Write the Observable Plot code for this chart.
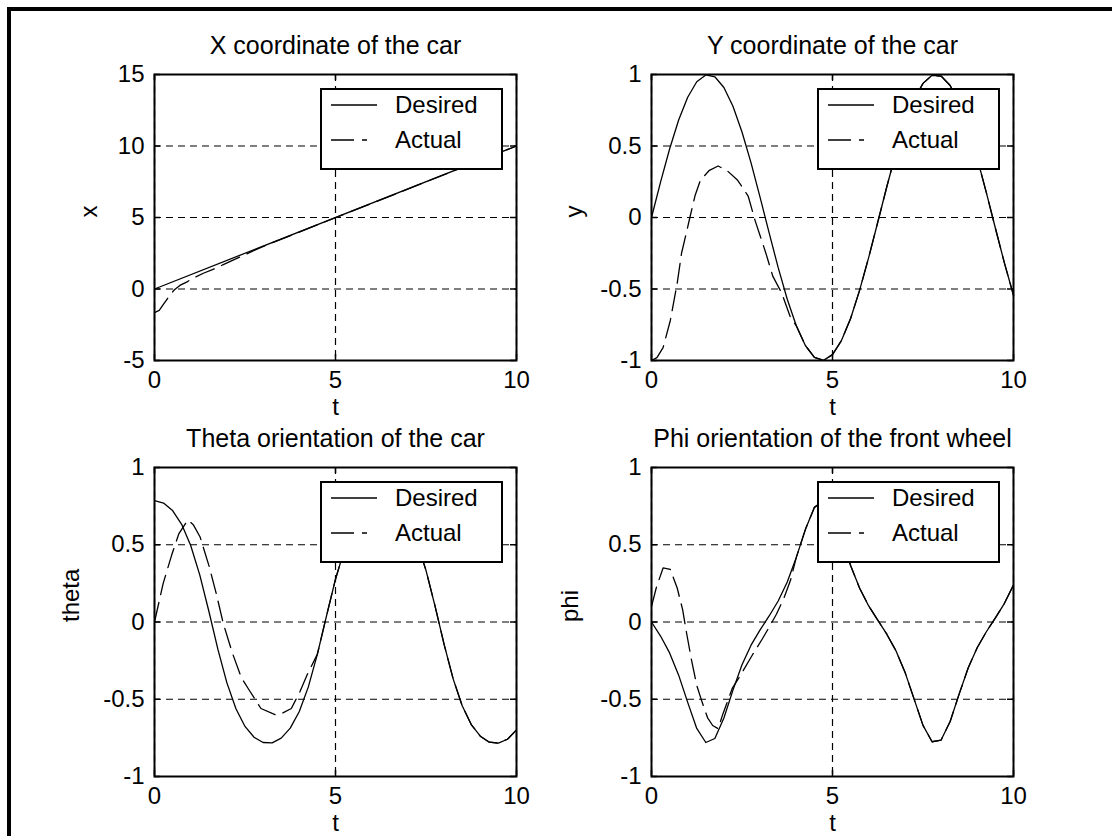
<!DOCTYPE html>
<html>
<head>
<meta charset="utf-8">
<script src="https://cdn.jsdelivr.net/npm/d3@7"></script>
<script src="https://cdn.jsdelivr.net/npm/@observablehq/plot@0.6"></script>
<style>
  html, body { margin: 0; padding: 0; background: #fff; }
  #fig { position: relative; width: 1112px; height: 836px; overflow: hidden; background: #fff;
         font-family: 'Liberation Sans', Arial, Helvetica, sans-serif; color: #000; }
  #border { position: absolute; left: 7px; top: 7px; width: 1300px; height: 1000px;
            border-left: 4px solid #000; border-top: 4px solid #000; z-index: 10; }
  .panel { position: absolute; }
  .legend { position: absolute; background: #fff; border: 2px solid #000; box-sizing: border-box; z-index: 5; }
  .legend svg { position: absolute; left: 0; top: 0; overflow: visible; }
</style>
</head>
<body>
<div id="fig"><div id="border"></div></div>
<script>
// ---------------- data ----------------
const titles = ["X coordinate of the car", "Y coordinate of the car",
                "Theta orientation of the car", "Phi orientation of the front wheel"];
const yLabels = ["x", "y", "theta", "phi"];
const xLabel = "t";
const legendLabels = ["Desired", "Actual"];

const xTicks = [0, 5, 10];
const yTicksX = [-5, 0, 5, 10, 15];
const yTicksUnit = [-1, -0.5, 0, 0.5, 1];

const tGrid = [0,0.25,0.5,0.75,1,1.25,1.5,1.75,2,2.25,2.5,2.75,3,3.25,3.5,3.75,4,4.25,4.5,4.75,
               5,5.25,5.5,5.75,6,6.25,6.5,6.75,7,7.25,7.5,7.75,8,8.25,8.5,8.75,9,9.25,9.5,9.75,10];

// X coordinate
const tXDesired = [0, 10];
const xDesired  = [0, 10];
const tXActual = [0,0.13,0.28,0.42,0.55,0.7,0.9,1.1,1.35,1.6,1.9,2.2,2.5,2.8,3.1,10];
const xActual  = [-1.65,-1.5,-0.95,-0.45,-0.05,0.25,0.5,0.8,1.1,1.35,1.7,2.05,2.4,2.75,3.08,10];

// Y coordinate (desired on tGrid)
const yDesired = [0,0.247,0.479,0.682,0.841,0.949,0.997,0.984,0.909,0.778,0.598,0.382,0.141,-0.108,
  -0.351,-0.572,-0.757,-0.895,-0.978,-0.999,-0.959,-0.859,-0.706,-0.508,-0.279,-0.033,0.215,0.450,
  0.657,0.823,0.938,0.994,0.989,0.923,0.798,0.624,0.412,0.174,-0.075,-0.319,-0.544];
const tYActualStart = [0,0.15,0.32,0.52,0.71,0.83,0.96,1.06,1.2,1.35,1.6,1.84,2.08,2.38,2.67,2.86,3.16,3.35,3.6,3.84];
const yActualStart  = [-1,-0.98,-0.91,-0.72,-0.46,-0.25,-0.11,0,0.15,0.26,0.33,0.36,0.33,0.26,0.15,-0.02,-0.25,-0.41,-0.53,-0.7];
const yJoinIndex = 16;   // actual follows desired from t = 4

// Theta (desired on tGrid)
const thetaDesired = [0.785,0.770,0.721,0.632,0.495,0.305,0.071,-0.176,-0.394,-0.561,-0.676,-0.746,
  -0.780,-0.782,-0.752,-0.687,-0.579,-0.420,-0.208,0.038,0.277,0.473,0.617,0.711,0.765,0.785,0.774,
  0.729,0.646,0.517,0.334,0.103,-0.145,-0.368,-0.542,-0.664,-0.739,-0.778,-0.784,-0.759,-0.698];
const tThetaActualStart = [0,0.24,0.47,0.67,0.92,1.07,1.26,1.51,1.71,1.9,2.15,2.4,2.64,2.94,3.33,3.53,3.78,4.02,4.22];
const thetaActualStart  = [0,0.25,0.43,0.57,0.66,0.63,0.55,0.36,0.18,-0.01,-0.2,-0.36,-0.45,-0.56,-0.6,-0.59,-0.56,-0.45,-0.34];
const thetaJoinIndex = 18; // from t = 4.5

// Phi (desired on tGrid)
const phiDesired = [0,-0.091,-0.200,-0.344,-0.520,-0.689,-0.780,-0.754,-0.621,-0.441,-0.277,-0.150,
  -0.051,0.039,0.136,0.259,0.418,0.598,0.742,0.784,0.707,0.545,0.366,0.218,0.104,0.012,-0.079,-0.185,
  -0.323,-0.496,-0.669,-0.775,-0.764,-0.644,-0.465,-0.296,-0.165,-0.063,0.027,0.121,0.240];
const tPhiActualStart = [0,0.13,0.32,0.52,0.71,0.86,0.96,1.1,1.25,1.4,1.55,1.69,1.84,1.98,2.23,2.47,2.77,3.06,3.26,3.45,3.65,3.84];
const phiActualStart  = [0.1,0.22,0.35,0.34,0.22,0.08,-0.06,-0.24,-0.41,-0.52,-0.62,-0.67,-0.69,-0.59,-0.43,-0.34,-0.22,-0.11,-0.03,0.05,0.15,0.27];
const phiJoinIndex = 16;  // from t = 4

// ---------------- build tables ----------------
const zip = (ts, vs) => ts.map((t, i) => ({t, v: vs[i]}));
const joined = (ts, vs, desired, k) => zip(ts, vs).concat(zip(tGrid.slice(k), desired.slice(k)));

const series = [
  {desired: zip(tXDesired, xDesired), actual: zip(tXActual, xActual)},
  {desired: zip(tGrid, yDesired), actual: joined(tYActualStart, yActualStart, yDesired, yJoinIndex)},
  {desired: zip(tGrid, thetaDesired), actual: joined(tThetaActualStart, thetaActualStart, thetaDesired, thetaJoinIndex)},
  {desired: zip(tGrid, phiDesired), actual: joined(tPhiActualStart, phiActualStart, phiDesired, phiJoinIndex)}
];

// ---------------- layout ----------------
const FONT = "'Liberation Sans', Arial, Helvetica, sans-serif";
const FS = 24;
const FST = 25;
const PW = 556, PH = 418;
const layout = [
  {px: 0,   py: 0,   fl: 154, fr: 516,  ft: 74,  fb: 360, yTicks: yTicksX,    yDomain: [-5, 15], ylabDx: -65},
  {px: 556, py: 0,   fl: 651, fr: 1013, ft: 74,  fb: 360, yTicks: yTicksUnit, yDomain: [-1, 1],  ylabDx: -77},
  {px: 0,   py: 418, fl: 154, fr: 516,  ft: 467, fb: 776, yTicks: yTicksUnit, yDomain: [-1, 1],  ylabDx: -83},
  {px: 556, py: 418, fl: 651, fr: 1013, ft: 467, fb: 776, yTicks: yTicksUnit, yDomain: [-1, 1],  ylabDx: -81}
];

const fig = document.getElementById("fig");
const fmt = d => String(d);
const gridDash = "7,5";
const actualDash = "20,8";

layout.forEach((L, i) => {
  const fw = L.fr - L.fl, fh = L.fb - L.ft;
  const chart = Plot.plot({
    width: PW, height: PH,
    marginLeft: L.fl - L.px, marginRight: L.px + PW - L.fr,
    marginTop: L.ft - L.py, marginBottom: L.py + PH - L.fb,
    style: {background: "transparent", fontFamily: FONT, fontSize: FS + "px", color: "#000", overflow: "visible"},
    x: {domain: [0, 10]},
    y: {domain: L.yDomain},
    marks: [
      Plot.gridX(xTicks, {stroke: "#000", strokeOpacity: 1, strokeWidth: 1.2, strokeDasharray: gridDash}),
      Plot.gridY(L.yTicks, {stroke: "#000", strokeOpacity: 1, strokeWidth: 1.2, strokeDasharray: gridDash}),
      Plot.line(series[i].desired, {x: "t", y: "v", stroke: "#000", strokeWidth: 1.3}),
      Plot.line(series[i].actual, {x: "t", y: "v", stroke: "#000", strokeWidth: 1.3, strokeDasharray: actualDash}),
      // inward ticks on all four sides
      Plot.tickY(L.yTicks, {y: d => d, stroke: "#000", strokeWidth: 1.5, insetRight: fw - 6}),
      Plot.tickY(L.yTicks, {y: d => d, stroke: "#000", strokeWidth: 1.5, insetLeft: fw - 6}),
      Plot.tickX(xTicks, {x: d => d, stroke: "#000", strokeWidth: 1.5, insetTop: fh - 6}),
      Plot.tickX(xTicks, {x: d => d, stroke: "#000", strokeWidth: 1.5, insetBottom: fh - 6}),
      Plot.frame({stroke: "#000", strokeWidth: 2}),
      Plot.axisX(xTicks, {tickSize: 0, tickPadding: 10, fontSize: FS, tickFormat: fmt, label: null}),
      Plot.axisY(L.yTicks, {tickSize: 0, tickPadding: 10, fontSize: FS, tickFormat: fmt, label: null}),
      Plot.text([titles[i]], {text: d => d, frameAnchor: "top", dy: -29, fontSize: FST, lineAnchor: "middle"}),
      Plot.text([xLabel], {text: d => d, frameAnchor: "bottom", dy: 47, fontSize: FS, lineAnchor: "middle"}),
      Plot.text([yLabels[i]], {text: d => d, frameAnchor: "left", dx: L.ylabDx, rotate: -90, fontSize: FS, lineAnchor: "middle"})
    ]
  });
  chart.classList.add("panel");
  chart.style.left = L.px + "px";
  chart.style.top = L.py + "px";
  fig.appendChild(chart);

  // legend box (white, drawn over the curves)
  const lw = 183, lh = 82;
  const leg = document.createElement("div");
  leg.className = "legend";
  leg.style.left = (L.fr - 13 - lw) + "px";
  leg.style.top = (L.ft + 14) + "px";
  leg.style.width = lw + "px";
  leg.style.height = lh + "px";
  const ns = "http://www.w3.org/2000/svg";
  const svg = document.createElementNS(ns, "svg");
  svg.setAttribute("width", lw - 4);
  svg.setAttribute("height", lh - 4);
  const rows = [15, 50];
  legendLabels.forEach((lab, k) => {
    const ln = document.createElementNS(ns, "line");
    ln.setAttribute("x1", 9); ln.setAttribute("x2", k === 0 ? 55 : 45);
    ln.setAttribute("y1", rows[k]); ln.setAttribute("y2", rows[k]);
    ln.setAttribute("stroke", "#000"); ln.setAttribute("stroke-width", 1.5);
    if (k === 1) ln.setAttribute("stroke-dasharray", "23,8");
    svg.appendChild(ln);
    const tx = document.createElementNS(ns, "text");
    tx.setAttribute("x", 73); tx.setAttribute("y", rows[k]);
    tx.setAttribute("dy", "0.35em");
    tx.setAttribute("font-size", FS);
    tx.setAttribute("font-family", FONT);
    tx.textContent = lab;
    svg.appendChild(tx);
  });
  leg.appendChild(svg);
  fig.appendChild(leg);
});
</script>
</body>
</html>
